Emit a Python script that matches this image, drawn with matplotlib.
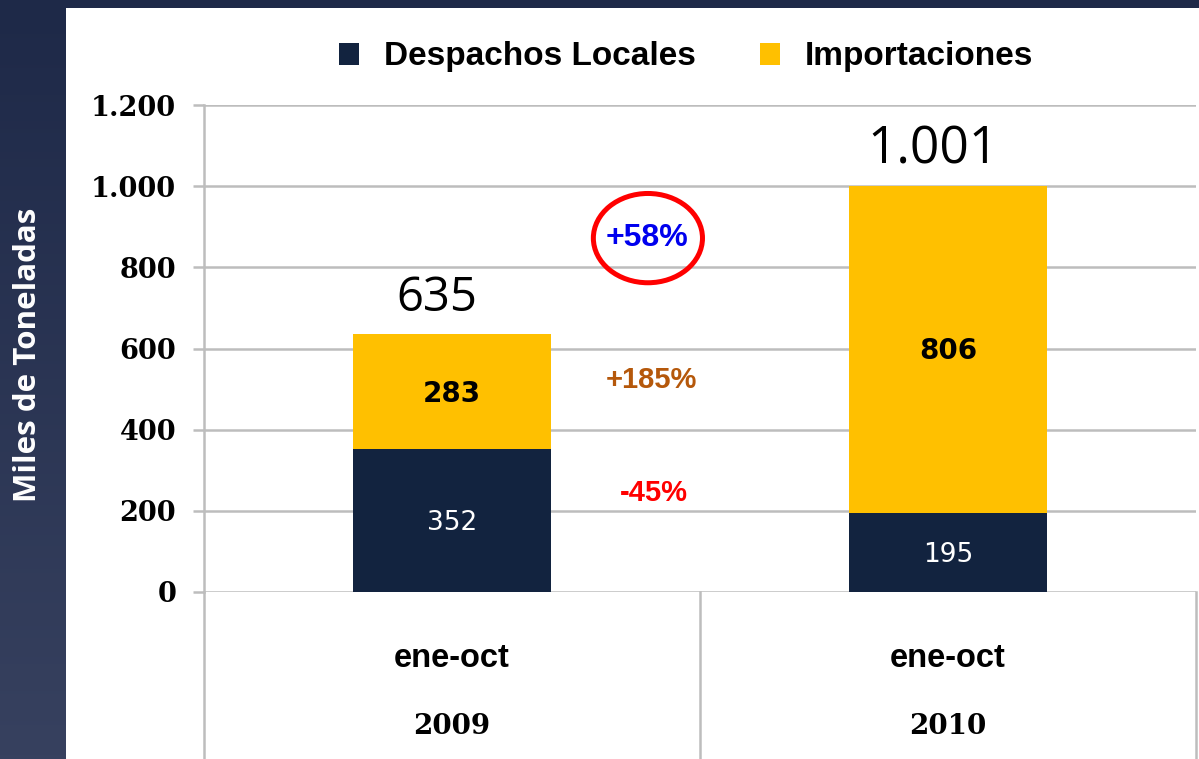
import numpy as np
import matplotlib.pyplot as plt
from matplotlib.patches import Ellipse
from matplotlib.ticker import FuncFormatter
from matplotlib.colors import LinearSegmentedColormap

# datos (miles de toneladas)
periodos = ["ene-oct", "ene-oct"]
anios = ["2009", "2010"]
despachos = [352, 195]
importaciones = [283, 806]
totales = [635, 1001]
total_labels = ["635", "1.001"]
variaciones = ["+58%", "+185%", "-45%"]

navy = "#12233f"
amarillo = "#ffc000"

fig = plt.figure(figsize=(11.99, 7.59), dpi=100)
fig.patch.set_facecolor("white")

# franja oscura izquierda (degradado) y superior
bg = fig.add_axes([0, 0, 66 / 1199, 1])
grad = np.linspace(0, 1, 200).reshape(-1, 1)
cmap = LinearSegmentedColormap.from_list("g", ["#1e2948", "#37415f"])
bg.imshow(grad, aspect="auto", cmap=cmap, extent=[0, 1, 0, 1], origin="upper")
bg.axis("off")
top = fig.add_axes([0, 1 - 8 / 759, 1, 8 / 759])
top.set_facecolor("#1e2948")
top.set_xticks([])
top.set_yticks([])
for s in top.spines.values():
    s.set_visible(False)

fig.text(28 / 1199, 1 - 355 / 759, "Miles de Toneladas", rotation=90, color="white",
         fontsize=22.5, fontweight="bold", family="Open Sans", ha="center", va="center")

# ejes principales
ax = fig.add_axes([204 / 1199, 167 / 759, 992 / 1199, 487 / 759])
x = np.arange(len(despachos))
ax.bar(x, despachos, width=0.4, color=navy, label="Despachos Locales", zorder=3)
ax.bar(x, importaciones, width=0.4, bottom=despachos, color=amarillo,
       label="Importaciones", zorder=3)

ax.set_xlim(-0.5, 1.5)
ax.set_ylim(0, 1200)
ax.set_yticks(np.arange(0, 1201, 200))
ax.yaxis.set_major_formatter(FuncFormatter(lambda v, p: f"{int(v):,}".replace(",", ".")))
ax.yaxis.grid(True, color="#bdbdbd", linewidth=1.8, zorder=0)
ax.set_xticks([])
ax.tick_params(axis="y", length=8, width=1.8, color="#bdbdbd", pad=12)
for lbl in ax.get_yticklabels():
    lbl.set_fontweight("bold")
    lbl.set_fontsize(19.5)
    lbl.set_family("DejaVu Serif")
for name in ["top", "right", "bottom"]:
    ax.spines[name].set_visible(False)
ax.spines["left"].set_color("#bdbdbd")
ax.spines["left"].set_linewidth(1.8)

# tabla de categorias bajo el eje
tr = ax.transAxes
for xx in [0, 0.5, 1]:
    ax.plot([xx, xx], [0, -0.35], transform=tr, color="#bdbdbd", lw=1.8, clip_on=False)
for i in range(len(periodos)):
    ax.text(i, -165, periodos[i], ha="center", va="center", fontsize=23.5,
            fontweight="bold", family="Liberation Sans", clip_on=False)
    ax.text(i, -332, anios[i], ha="center", va="center", fontsize=20,
            fontweight="bold", family="DejaVu Serif", clip_on=False)

# etiquetas de valores
for i in range(len(x)):
    ax.text(x[i], despachos[i] / 2 - 7, str(despachos[i]), ha="center", va="center",
            color="white", fontsize=19, family="DejaVu Sans", zorder=4)
    ax.text(x[i], despachos[i] + importaciones[i] / 2 - 5, str(importaciones[i]),
            ha="center", va="center", color="black", fontsize=20, fontweight="bold",
            family="DejaVu Sans", zorder=4)
    ax.text(x[i] - 0.03, totales[i] + 89, total_labels[i], ha="center",
            va="center", fontsize=34 if i == 0 else 37, family="Open Sans")

# variaciones
ax.text(0.393, 872, variaciones[0], ha="center", va="center", color="#0000ee",
        fontsize=23, fontweight="bold", family="Liberation Sans", zorder=5)
ax.add_patch(Ellipse((0.395, 872), 0.22, 220, fill=False, edgecolor="#ff0000",
                     linewidth=3.6, zorder=5))
ax.text(0.403, 522, variaciones[1], ha="center", va="center", color="#b5580b",
        fontsize=21, fontweight="bold", family="Liberation Sans")
ax.text(0.407, 244, variaciones[2], ha="center", va="center", color="#ff0000",
        fontsize=21, fontweight="bold", family="Liberation Sans")

ax.legend(loc="center", bbox_to_anchor=(0.486, 1 + 48 / 487), ncol=2,
          frameon=False, handlelength=0.6, handleheight=0.65, columnspacing=1.9,
          handletextpad=0.75,
          prop={"family": "Liberation Sans", "weight": "bold", "size": 24})

fig.savefig("out.png", dpi=100)
